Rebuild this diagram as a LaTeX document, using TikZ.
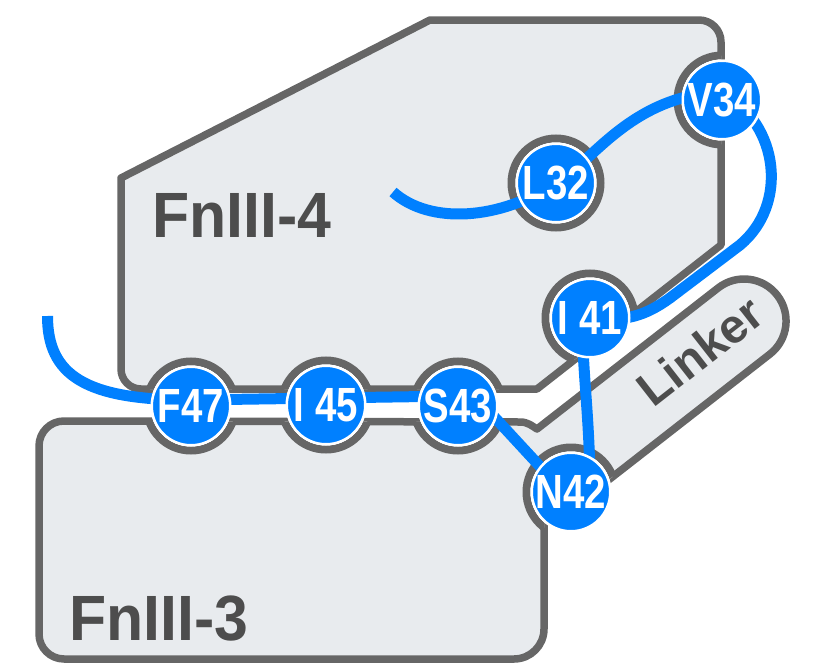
\documentclass[tikz,border=0pt]{standalone}
\usepackage{fontspec}
\setmainfont{Liberation Sans}
\newfontfamily\resfont[FakeStretch=0.8]{Liberation Sans}
\newfontfamily\domfont[FakeStretch=0.95]{Liberation Sans}
\definecolor{domfill}{HTML}{E8EBEE}
\definecolor{edgegray}{HTML}{666666}
\definecolor{resblue}{HTML}{0080FF}
\definecolor{labgray}{HTML}{4D4D4D}
\tikzset{
  dom/.style={fill=domfill, draw=edgegray, line width=7.5pt, line join=round},
  notch/.style={fill=white, draw=edgegray, line width=8pt},
  bl/.style={draw=resblue, line width=11pt},
  res/.style={circle, fill=resblue, draw=white, line width=2.5pt, minimum size=78.5pt, inner sep=0pt},
  rtxt/.style={text=white, font=\resfont\bfseries\fontsize{48}{48}\selectfont, inner sep=0pt},
  dtxt/.style={text=labgray, font=\domfont\bfseries\fontsize{64}{64}\selectfont, inner sep=0pt, anchor=base west},
  ltxt/.style={text=labgray, font=\bfseries\fontsize{48}{48}\selectfont, inner sep=0pt, rotate=38},
}
\def\pathA{(430,-20) -- (699,-20) arc[start angle=90,end angle=0,radius=22] -- (721,-245) -- (537,-389) -- (141,-389) arc[start angle=270,end angle=180,radius=20] -- (121,-178) -- cycle}
\def\pathB{(64,-421) -- (520,-422) .. controls (528,-422) and (532,-426) .. (537,-429) -- (718.2,-287.9) arc[start angle=128,end angle=-52,radius=42] -- (579.4,-502.7) -- (544,-502.7) -- (544,-629) arc[start angle=0,end angle=-90,radius=30] -- (64,-659) arc[start angle=270,end angle=180,radius=25] -- (39,-446) arc[start angle=180,end angle=90,radius=25] -- cycle}
\begin{document}
\begin{tikzpicture}[x=1pt,y=1pt]
\path[use as bounding box] (0,0) rectangle (833,-664);
% residue positions
\coordinate (pL32) at (556,-183);
\coordinate (pV34) at (722,-100);
\coordinate (pI41) at (590,-318);
\coordinate (pN42) at (571,-492);
\coordinate (pS43) at (458,-406);
\coordinate (pI45) at (326,-405);
\coordinate (pF47) at (191,-406);
\coordinate (s1) at (393,-192);
\coordinate (s2) at (47.5,-316);
\coordinate (k1) at (486,-408);
% domains
\draw[dom] \pathA;
\draw[dom] \pathB;
% notches
\begin{scope}
  \clip \pathA;
  \foreach \p in {pL32,pV34,pI41,pF47,pI45,pS43} \draw[notch] (\p) circle[radius=44.5];
\end{scope}
\begin{scope}
  \clip \pathB;
  \foreach \p in {pF47,pI45,pS43,pN42} \draw[notch] (\p) circle[radius=44.5];
\end{scope}
\foreach \p in {pL32,pV34,pI41,pN42,pS43,pI45,pF47} \fill[white] (\p) circle[radius=40.5];
% labels of domains
\node[dtxt] (lab4) at (152,-237) {FnIII-4};
\node[dtxt] (lab3) at (69,-640) {FnIII-3};
\node[ltxt] (labL) at (700,-351) {Linker};
% chain
\draw[bl] (s1) .. controls (430,-225) and (500,-220) .. (pL32)
  .. controls (590,-165) and (630,-95) .. ([yshift=8pt]pV34)
  .. controls (780,-125) and (788,-205) .. (740,-245) -- (670,-298)
  .. controls (645,-316) and (625,-322) .. (pI41);
\draw[bl] (s2) .. controls (47.5,-375) and (85,-400) .. ([yshift=6pt]pF47)
  -- ([yshift=7pt]pI45) -- ([yshift=10pt]pS43) -- (k1) -- ([yshift=-8pt]pN42);
\draw[bl] ([xshift=-8pt]pI41) .. controls (583,-380) and (590,-420) .. ([xshift=19pt]pN42);
% residues
\node[res] (L32) at (pL32) {};
\node[res] (V34) at (pV34) {};
\node[res] (I41) at (pI41) {};
\node[res] (N42) at (pN42) {};
\node[res] (S43) at (pS43) {};
\node[res] (I45) at (pI45) {};
\node[res] (F47) at (pF47) {};
\node[rtxt] (tL32) at (L32) {L32};
\node[rtxt] (tV34) at (V34) {V34};
\node[rtxt] (tI41) at (I41) {I 41};
\node[rtxt] (tN42) at (N42) {N42};
\node[rtxt] (tS43) at (S43) {S43};
\node[rtxt] (tI45) at (I45) {I 45};
\node[rtxt] (tF47) at (F47) {F47};
\end{tikzpicture}
\end{document}
